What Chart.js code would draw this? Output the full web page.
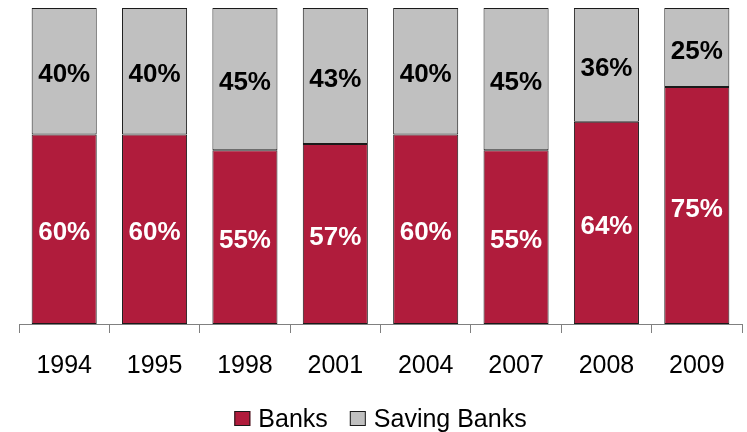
<!DOCTYPE html>
<html>
<head>
<meta charset="utf-8">
<script src="https://cdn.jsdelivr.net/npm/chart.js@4"></script>
<style>
  html, body { margin: 0; padding: 0; background: #fff; }
  #wrap { width: 747px; height: 432px; }
</style>
</head>
<body>
<div id="wrap"><canvas id="shareChart" width="747" height="432"></canvas></div>
<script>
// market share by year, percent
const years = ['1994', '1995', '1998', '2001', '2004', '2007', '2008', '2009'];
const banks = [60, 60, 55, 57, 60, 55, 64, 75];
const savingBanks = [40, 40, 45, 43, 40, 45, 36, 25];

const FONT = 'Arial, "Liberation Sans", sans-serif';

// writes the percentage in the middle of each segment
const segmentLabels = {
    id: 'segmentLabels',
    afterDatasetsDraw(chart) {
        const ctx = chart.ctx;
        ctx.save();
        ctx.font = 'bold 26px ' + FONT;
        ctx.textAlign = 'center';
        ctx.textBaseline = 'middle';
        chart.data.datasets.forEach((ds, i) => {
            const meta = chart.getDatasetMeta(i);
            ctx.fillStyle = ds.labelColor;
            meta.data.forEach((bar, j) => {
                const y = (bar.y + bar.base) / 2;
                ctx.fillText(ds.data[j] + '%', bar.x, y + 4);
            });
        });
        ctx.restore();
    }
};

// compact legend row under the axis, centred on the plot area
const bottomLegend = {
    id: 'bottomLegend',
    afterDraw(chart) {
        const ctx = chart.ctx;
        const area = chart.chartArea;
        const box = 16, gap = 8, spacing = 22, cy = 419;
        ctx.save();
        ctx.font = '25px ' + FONT;
        ctx.textBaseline = 'middle';
        const items = chart.data.datasets.map(ds => ({
            ds, w: ctx.measureText(ds.label).width
        }));
        let total = items.reduce((s, it) => s + box + gap + it.w, 0) + spacing * (items.length - 1);
        let x = (area.left + area.right) / 2 - total / 2;
        items.forEach(it => {
            ctx.fillStyle = it.ds.backgroundColor;
            ctx.fillRect(x, cy - 8, box, box - 1);
            ctx.strokeStyle = '#1a1a1a';
            ctx.lineWidth = 1;
            ctx.strokeRect(x + 0.5, cy - 7.5, box - 1, box - 2);
            ctx.fillStyle = '#000';
            ctx.fillText(it.ds.label, x + box + gap, cy + 1);
            x += box + gap + it.w + spacing;
        });
        ctx.restore();
    }
};

const ctx = document.getElementById('shareChart').getContext('2d');
new Chart(ctx, {
    type: 'bar',
    data: {
        labels: years,
        datasets: [
            {
                label: 'Banks',
                data: banks,
                backgroundColor: '#B01C3C',
                borderColor: '#1a1a1a',
                borderWidth: 1,
                borderSkipped: false,
                labelColor: '#ffffff'
            },
            {
                label: 'Saving Banks',
                data: savingBanks,
                backgroundColor: '#C0C0C0',
                borderColor: '#1a1a1a',
                borderWidth: 1,
                borderSkipped: false,
                labelColor: '#000000'
            }
        ]
    },
    options: {
        responsive: false,
        animation: false,
        layout: { padding: { left: 19, right: 5, top: 8, bottom: 33 } },
        datasets: { bar: { categoryPercentage: 1, barPercentage: 0.72 } },
        scales: {
            x: {
                stacked: true,
                grid: {
                    offset: true,
                    drawOnChartArea: false,
                    tickLength: 9,
                    color: '#808080'
                },
                border: { color: '#808080', width: 1 },
                ticks: {
                    color: '#000',
                    padding: 18,
                    font: { family: FONT, size: 25 }
                }
            },
            y: {
                stacked: true,
                display: false,
                min: 0,
                max: 100
            }
        },
        plugins: {
            legend: { display: false },
            tooltip: { enabled: false }
        }
    },
    plugins: [segmentLabels, bottomLegend]
});
</script>
</body>
</html>
